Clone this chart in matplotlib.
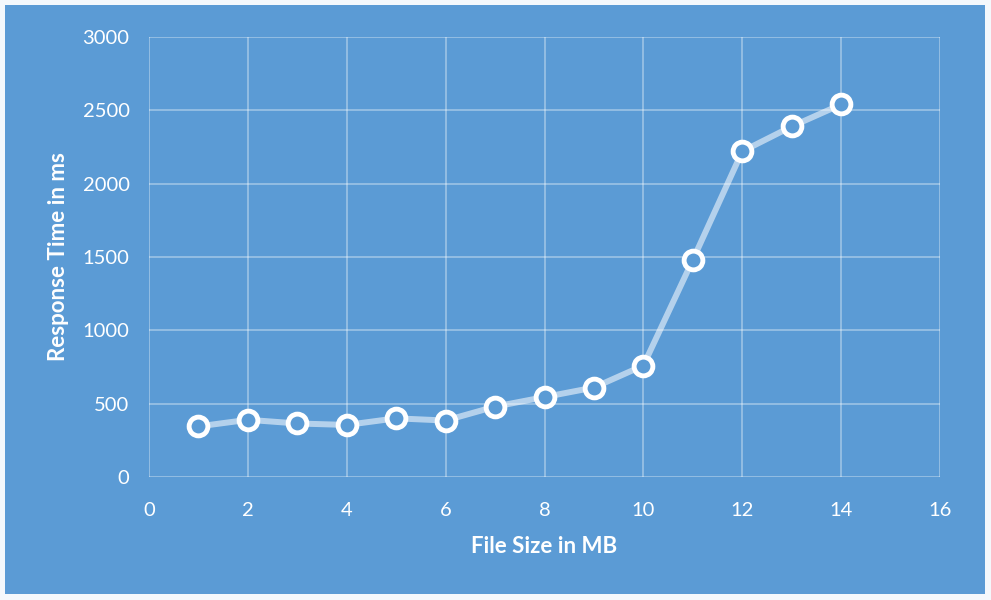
import matplotlib.pyplot as plt
from matplotlib.patches import Rectangle

plt.rcParams['font.family'] = ['Lato', 'DejaVu Sans']

file_size = [1, 2, 3, 4, 5, 6, 7, 8, 9, 10, 11, 12, 13, 14]
response_ms = [345, 390, 365, 355, 400, 385, 480, 545, 610, 760, 1480, 2220, 2390, 2540]
x_ticks = [0, 2, 4, 6, 8, 10, 12, 14, 16]
y_ticks = [0, 500, 1000, 1500, 2000, 2500, 3000]

bg = '#5b9bd5'

fig = plt.figure(figsize=(9.91, 6), dpi=100)
fig.patch.set_facecolor('#f4f8fc')
fig.patches.append(Rectangle((5 / 991, 6 / 600), 980 / 991, 589 / 600,
                             transform=fig.transFigure, facecolor=bg,
                             edgecolor='none', zorder=-5))

ax = fig.add_axes([149 / 991, 1 - 477 / 600, 791 / 991, 440 / 600])
ax.set_facecolor(bg)
for s in ax.spines.values():
    s.set_visible(False)

ax.plot(file_size, response_ms, color='white', alpha=0.55, lw=4.3,
        solid_capstyle='round', zorder=3)
ax.plot(file_size, response_ms, ls='none', marker='o', ms=13.5,
        markerfacecolor=bg, markeredgecolor='white', markeredgewidth=3.5,
        zorder=4)

ax.set_xlim(0, 16)
ax.set_ylim(0, 3000)
ax.set_xticks(x_ticks)
ax.set_yticks(y_ticks)
ax.grid(True, color='white', alpha=0.4, lw=1.2)
ax.set_axisbelow(True)
ax.tick_params(axis='y', length=0, colors='white', labelsize=14.5, pad=14)
ax.tick_params(axis='x', length=0, colors='white', labelsize=14.5, pad=18)

ax.set_xlabel('File Size in MB', color='white', fontsize=16,
              fontweight='bold', labelpad=12)
ax.set_ylabel('Response Time in ms', color='white', fontsize=16,
              fontweight='bold', labelpad=10)

fig.savefig('out.png', dpi=100, facecolor=fig.get_facecolor())
